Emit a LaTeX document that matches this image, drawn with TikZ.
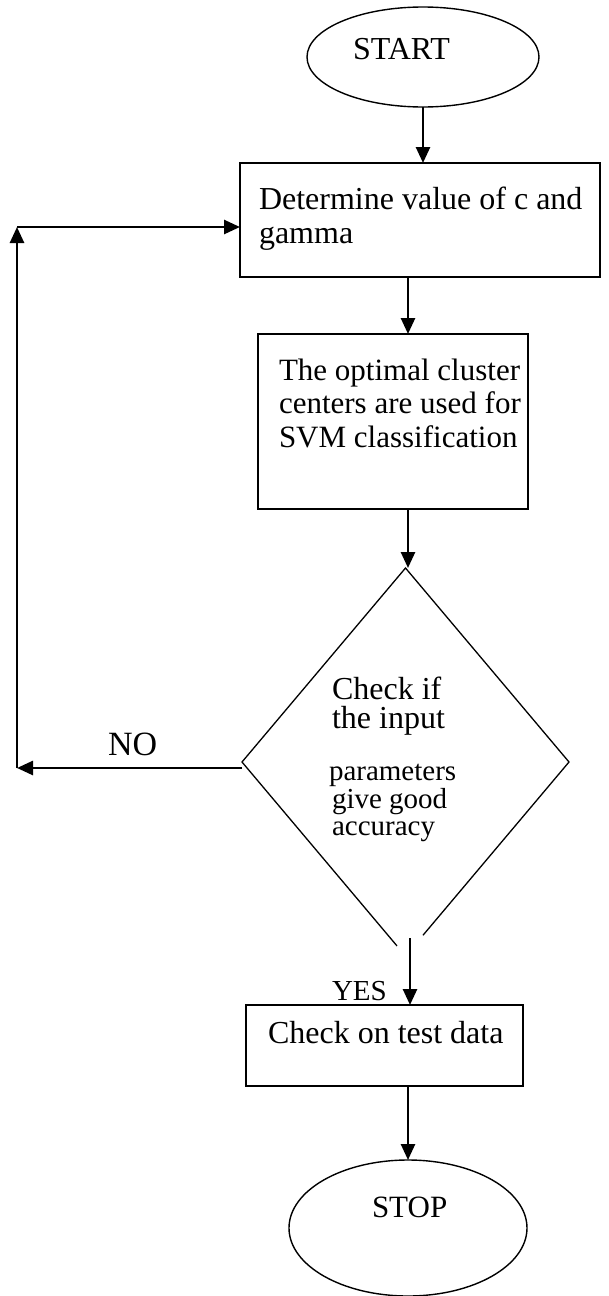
\documentclass[tikz,border=0pt]{standalone}
\usepackage{fontspec}
\setmainfont{Liberation Serif}
\usetikzlibrary{shapes.geometric,arrows.meta,calc}

\begin{document}
\begin{tikzpicture}[x=1pt,y=-1pt,
  every node/.style={inner sep=0pt,outer sep=0pt},
  terminal/.style={ellipse,draw,line width=1.4pt},
  procbox/.style={rectangle,draw,line width=1.8pt},
  flow/.style={line width=2.6pt,-{Triangle[length=16pt,width=14pt]}},
  txt/.style={anchor=base west,font=\fontsize{32}{34}\selectfont},
  boxtxt/.style={anchor=base west,font=\fontsize{31}{33}\selectfont},
  smalltxt/.style={anchor=base west,font=\fontsize{29}{30}\selectfont}]

  % page area
  \fill[white] (0,0) rectangle (609,1296);
  \useasboundingbox (0,0) rectangle (609,1296);

  % shapes
  \node[terminal,minimum width=232pt,minimum height=100pt] (start) at (423,57) {};
  \node[procbox,minimum width=360pt,minimum height=114pt] (box1) at (420,220) {};
  \node[procbox,minimum width=270pt,minimum height=175pt] (box2) at (393,421.5) {};
  \node[diamond,draw=none,minimum width=327pt,minimum height=388pt] (dec) at (405.5,762) {};
  \node[procbox,minimum width=277pt,minimum height=81pt] (box3) at (384.5,1045.5) {};
  \node[terminal,minimum width=238pt,minimum height=136pt] (stop) at (408,1228) {};

  % decision outline, open at its lower tip
  \draw[line width=1.3pt]
    ($(dec.south)!0.052!(dec.west)$) -- (dec.west) -- (dec.north)
    -- (dec.east) -- ($(dec.south)!0.107!(dec.east)$);

  % texts
  \node[txt] (tstart) at (353,59) {START};
  \node[txt] (t1a) at (259,209) {Determine value of c and};
  \node[txt] (t1b) at (259,243) {gamma};
  \node[boxtxt] (t2a) at (279,380) {The optimal cluster};
  \node[boxtxt] (t2b) at (279,413) {centers are used for};
  \node[boxtxt] (t2c) at (279,447) {SVM classification};
  \node[txt] (tda) at (332,699) {Check if};
  \node[txt] (tdb) at (332,728) {the input};
  \node[smalltxt] (tdc) at (329,780) {parameters};
  \node[smalltxt] (tdd) at (332,808) {give good};
  \node[smalltxt] (tde) at (332,835) {accuracy};
  \node[anchor=base west,font=\fontsize{34}{36}\selectfont] (tno) at (108,755) {NO};
  \node[smalltxt] (tyes) at (332,1000) {YES};
  \node[txt] (t3) at (268,1043) {Check on test data};
  \node[anchor=base west,font=\fontsize{31}{32}\selectfont] (tstop) at (372,1217) {STOP};

  % helper points
  \coordinate (axis) at (408,0);
  \coordinate (yesout) at (410,938);
  \coordinate (loopbot) at (17,768);
  \coordinate (looptop) at (17,227);

  % main flow
  \draw[flow] (start.south) -- (start.south |- box1.north);
  \draw[flow] (box1.south -| axis) -- (box2.north -| axis);
  \draw[flow] (box2.south -| axis) -- (dec.north -| axis);
  \draw[flow] (yesout) -- (box3.north -| yesout);
  \draw[flow] (box3.south -| axis) -- (stop.north -| axis);

  % NO branch back to the parameter step
  \draw[flow] ([yshift=-6pt]dec.west) -- (loopbot);
  \draw[flow] (loopbot) -- (looptop);
  \draw[flow] (looptop) -- (box1.west |- looptop);
\end{tikzpicture}
\end{document}
